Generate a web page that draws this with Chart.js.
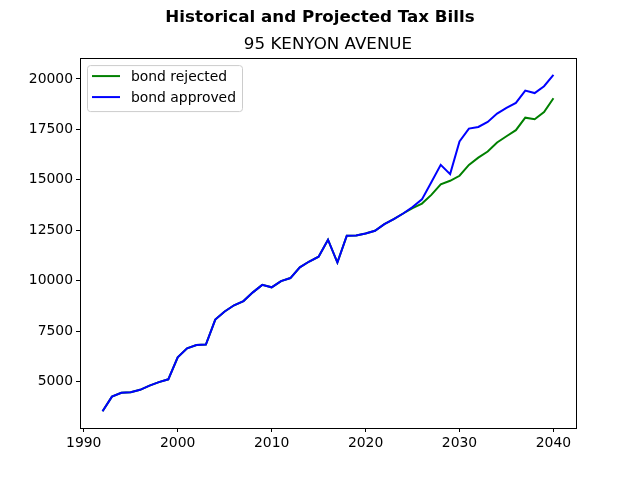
<!DOCTYPE html>
<html>
<head>
<meta charset="utf-8">
<script src="https://cdn.jsdelivr.net/npm/chart.js@4.4.1/dist/chart.umd.min.js"></script>
<style>
  html, body { margin: 0; padding: 0; background: #fff; }
  #chart { display: block; }
</style>
</head>
<body>
<canvas id="chart" width="640" height="480"></canvas>
<script>
const years = [
  1992, 1993, 1994, 1995, 1996, 1997, 1998, 1999, 2000, 2001,
  2002, 2003, 2004, 2005, 2006, 2007, 2008, 2009, 2010, 2011,
  2012, 2013, 2014, 2015, 2016, 2017, 2018, 2019, 2020, 2021,
  2022, 2023, 2024, 2025, 2026, 2027, 2028, 2029, 2030, 2031,
  2032, 2033, 2034, 2035, 2036, 2037, 2038, 2039, 2040
];

// shared history up to 2024
const history = [
  3530, 4250, 4440, 4470, 4590, 4800, 4970, 5110, 6200, 6650,
  6810, 6830, 8070, 8470, 8780, 8990, 9420, 9790, 9670, 9980,
  10130, 10660, 10950, 11190, 12030, 10900, 12230, 12240, 12340, 12470,
  12800, 13050, 13330
];
const rejectedProjection = [
  13600, 13820, 14250, 14780, 14950, 15200, 15740, 16100,
  16400, 16850, 17160, 17460, 18080, 18000, 18360, 19040
];
const approvedProjection = [
  13650, 14030, 14880, 15740, 15280, 16900, 17540, 17620,
  17870, 18280, 18560, 18810, 19420, 19300, 19640, 20200
];
const bondRejected = history.concat(rejectedProjection);
const bondApproved = history.concat(approvedProjection);

const xTicks = [1990, 2000, 2010, 2020, 2030, 2040];
const yTicks = [5000, 7500, 10000, 12500, 15000, 17500, 20000];

const seriesLabels = ["bond rejected", "bond approved"];
const seriesColors = ["#008000", "#0000ff"];

Chart.defaults.font.family = "'DejaVu Sans', sans-serif";
Chart.defaults.color = "#000";

function points(values) {
  return years.map((y, i) => ({ x: y, y: values[i] }));
}

// axes frame (top/right spines too)
const framePlugin = {
  id: "frame",
  afterDraw(chart) {
    const { ctx, chartArea: a } = chart;
    ctx.save();
    ctx.strokeStyle = "#000";
    ctx.lineWidth = 1;
    ctx.strokeRect(Math.round(a.left) + 0.5, Math.round(a.top) + 0.5,
      Math.round(a.right - a.left), Math.round(a.bottom - a.top));
    ctx.restore();
  }
};

// matplotlib-like legend box in upper left
const legendPlugin = {
  id: "mplLegend",
  afterDraw(chart) {
    const { ctx, chartArea: a } = chart;
    const x = a.left + 7, y = a.top + 7, w = 155, h = 46;
    ctx.save();
    ctx.beginPath();
    ctx.roundRect(x + 0.5, y + 0.5, w, h, 3);
    ctx.fillStyle = "rgba(255,255,255,0.8)";
    ctx.fill();
    ctx.strokeStyle = "#cccccc";
    ctx.lineWidth = 1;
    ctx.stroke();
    ctx.font = "13.9px 'DejaVu Sans'";
    ctx.textBaseline = "middle";
    chart.data.datasets.forEach((ds, i) => {
      const ly = y + 11 + i * 21;
      ctx.strokeStyle = ds.borderColor;
      ctx.lineWidth = 2;
      ctx.beginPath();
      ctx.moveTo(x + 5, ly);
      ctx.lineTo(x + 33, ly);
      ctx.stroke();
      ctx.fillStyle = "#000";
      ctx.fillText(ds.label, x + 44, ly + 1);
    });
    ctx.restore();
  }
};

new Chart(document.getElementById("chart"), {
  type: "line",
  data: {
    datasets: [
      {
        label: seriesLabels[0],
        data: points(bondRejected),
        borderColor: seriesColors[0],
        borderWidth: 2,
        pointRadius: 0,
        tension: 0,
        order: 1
      },
      {
        label: seriesLabels[1],
        data: points(bondApproved),
        borderColor: seriesColors[1],
        borderWidth: 2,
        pointRadius: 0,
        tension: 0,
        order: 0
      }
    ]
  },
  options: {
    responsive: false,
    devicePixelRatio: 1,
    animation: false,
    layout: { padding: 0 },
    plugins: {
      legend: { display: false },
      tooltip: { enabled: false },
      title: {
        display: true,
        text: "Historical and Projected Tax Bills",
        font: { size: 16.7, weight: "bold" },
        color: "#000",
        padding: { top: 8, bottom: 0 }
      },
      subtitle: {
        display: true,
        fullSize: false, // centred over the plot area like an axes title
        text: "95 KENYON AVENUE",
        font: { size: 16.7 },
        color: "#000",
        padding: { top: 7, bottom: 3 }
      }
    },
    scales: {
      x: {
        type: "linear",
        min: 1989.6,
        max: 2042.4,
        afterBuildTicks: (s) => { s.ticks = xTicks.map(v => ({ value: v })); },
        afterFit: (s) => { s.height = 52; },
        grid: { drawOnChartArea: false, drawTicks: true, tickLength: 4, color: "#000" },
        border: { display: true, color: "#000" },
        ticks: {
          font: { size: 13.9 },
          padding: 3,
          maxRotation: 0,
          callback: (v) => String(v)
        }
      },
      y: {
        type: "linear",
        min: 2697,
        max: 21033,
        afterBuildTicks: (s) => { s.ticks = yTicks.map(v => ({ value: v })); },
        afterFit: (s) => { s.width = 80; },
        grid: { drawOnChartArea: false, drawTicks: true, tickLength: 4, color: "#000" },
        border: { display: true, color: "#000" },
        ticks: {
          font: { size: 13.9 },
          padding: 3,
          callback: (v) => String(v)
        }
      },
      // empty right-hand axis, only reserves the figure's right margin
      yRight: {
        type: "linear",
        position: "right",
        afterFit: (s) => { s.width = 64; },
        grid: { display: false },
        border: { display: false },
        ticks: { display: false }
      }
    }
  },
  plugins: [framePlugin, legendPlugin]
});
</script>
</body>
</html>
